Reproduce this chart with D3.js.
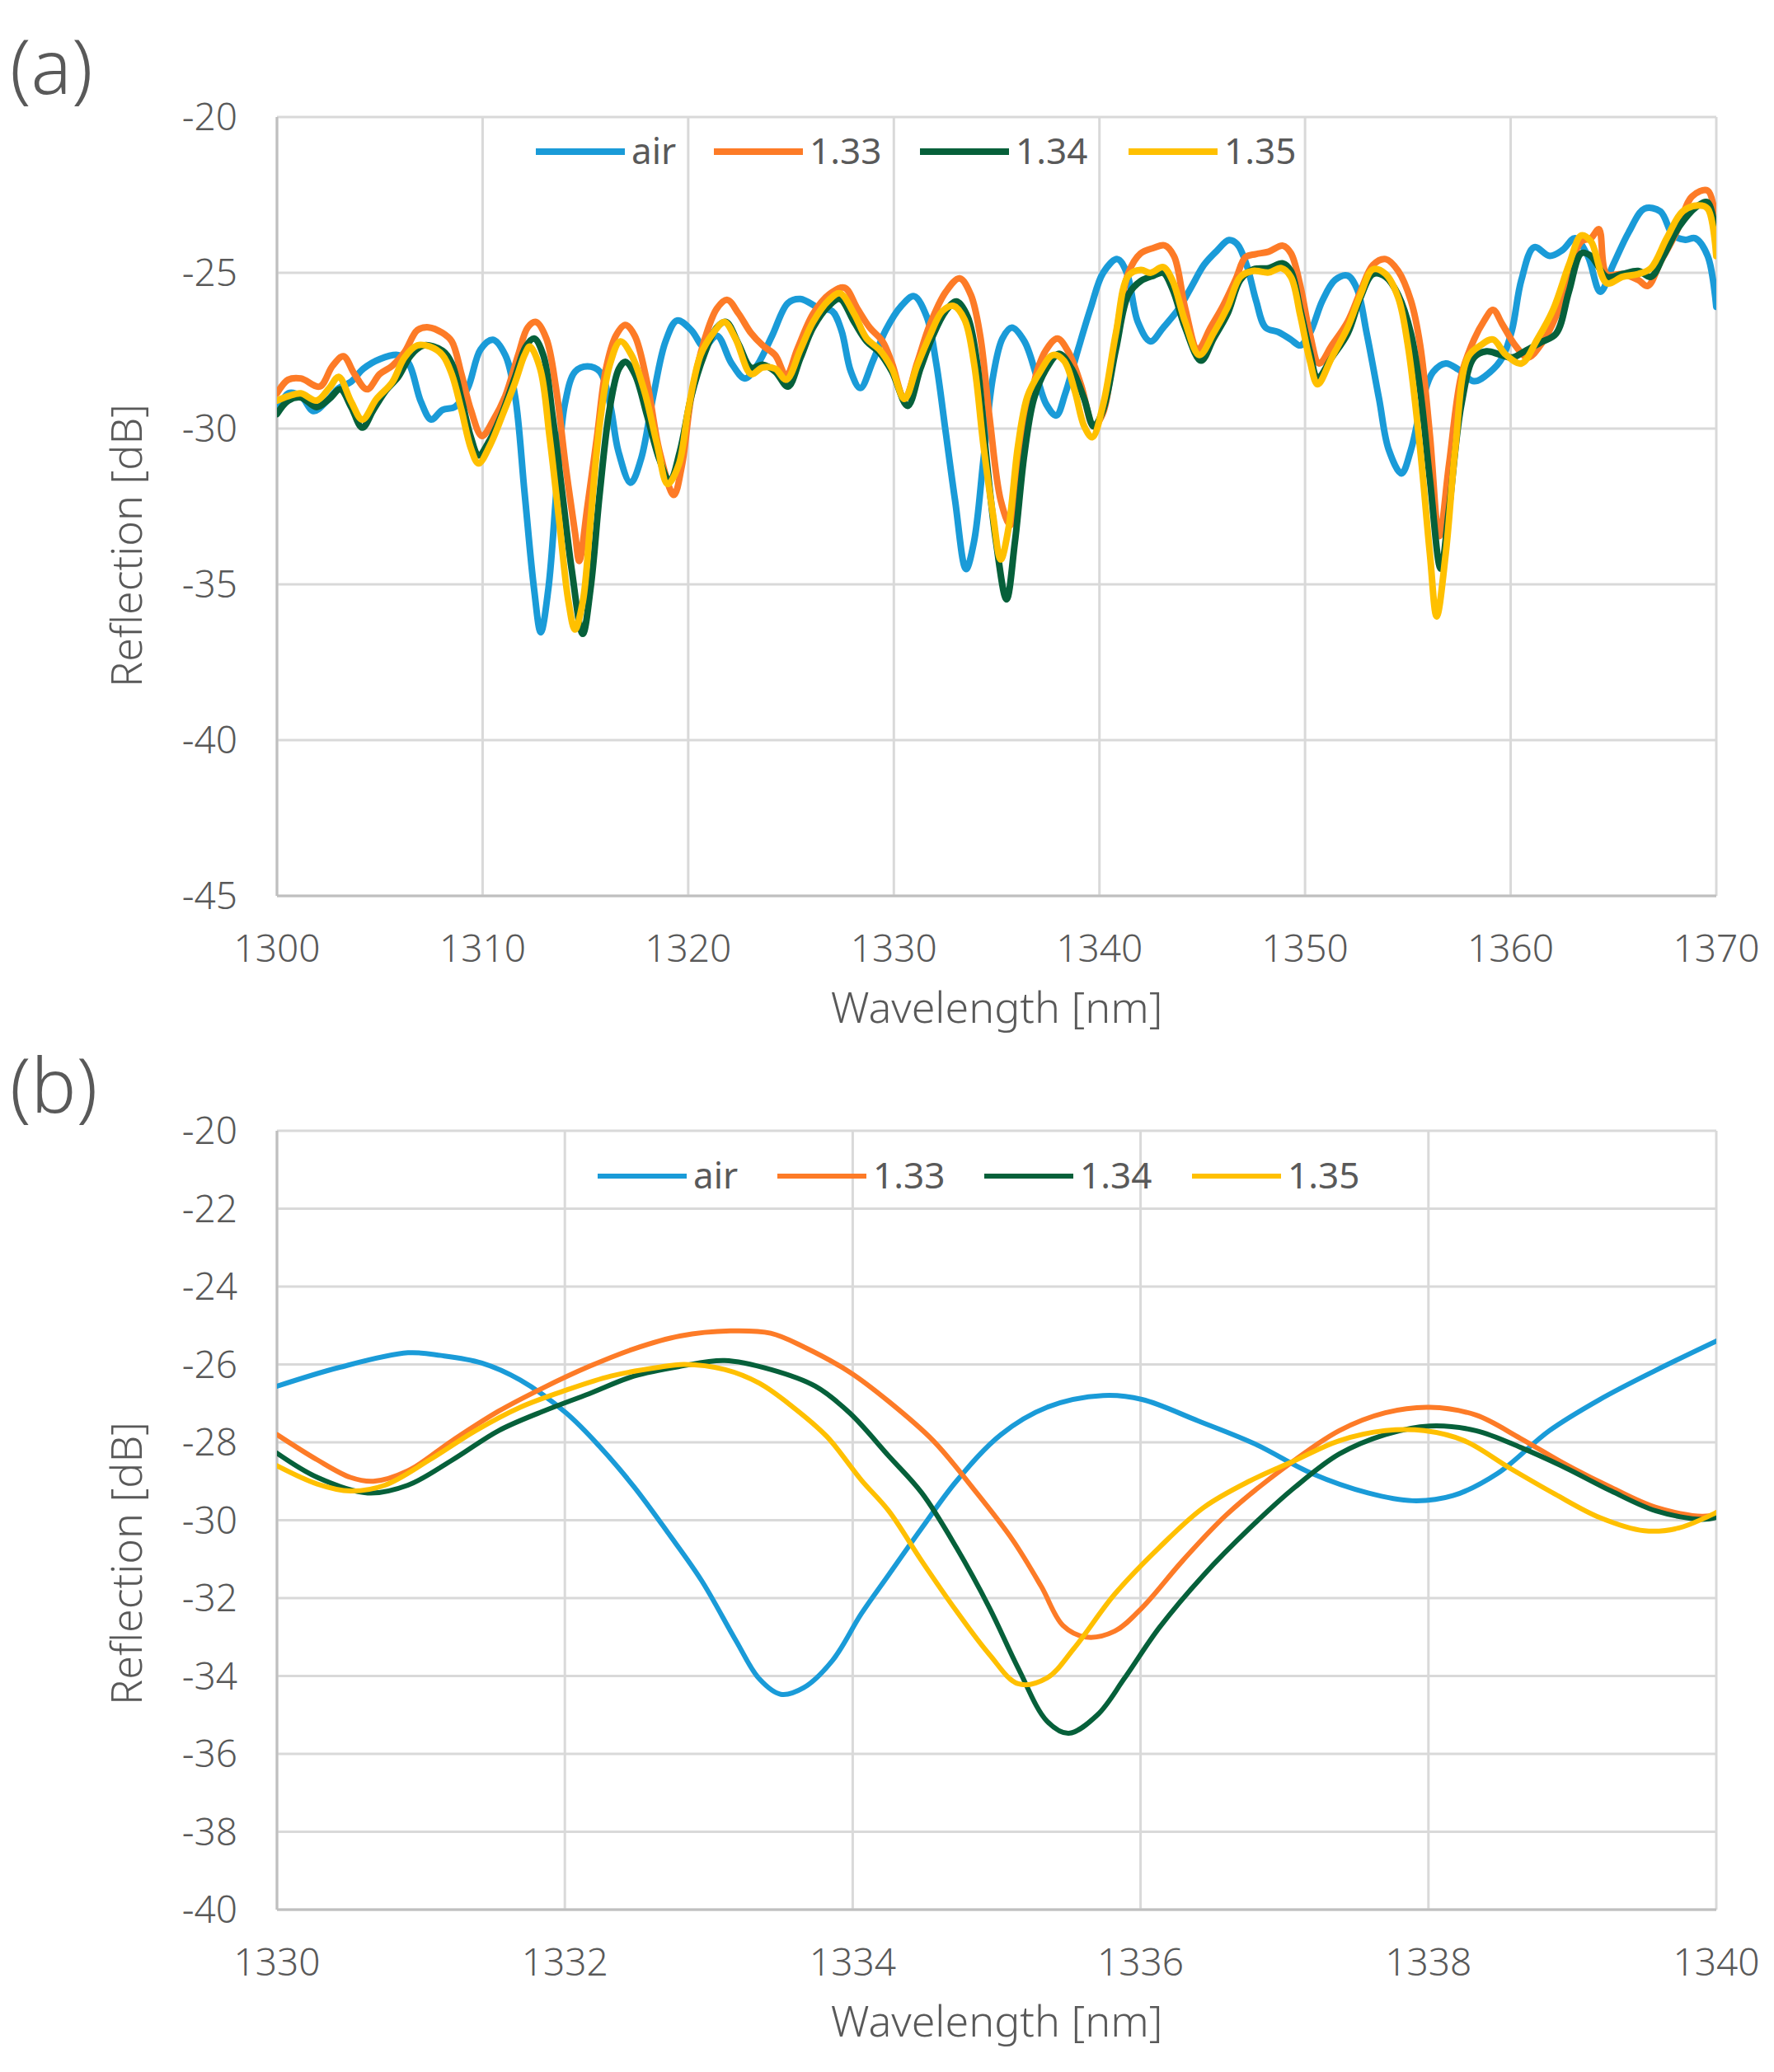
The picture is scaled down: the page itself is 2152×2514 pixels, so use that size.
<!DOCTYPE html>
<html><head><meta charset="utf-8">
<script src="https://cdn.jsdelivr.net/npm/d3@7"></script>
<style>body{margin:0;background:#fff}svg{display:block}</style>
</head><body>
<script>
// ---------- DATA ----------
const seriesNames = ["air", "1.33", "1.34", "1.35"];
const seriesColors = ["#1a9bd8", "#fd7b27", "#06603a", "#ffc000"];

// Panel (a): wavelength [nm], reflection [dB]
const a_air = [[1300,-29.5],[1300.55,-28.87],[1301.16,-28.96],[1301.78,-29.44],[1302.39,-29.14],[1303,-28.7],[1303.6,-28.5],[1304.2,-28.08],[1305,-27.77],[1305.9,-27.64],[1306.4,-27.9],[1307,-29.14],[1307.5,-29.71],[1308.05,-29.4],[1308.67,-29.3],[1309.28,-28.7],[1309.9,-27.46],[1310.5,-27.15],[1311.1,-27.64],[1311.58,-28.96],[1312.04,-32.05],[1312.5,-35.13],[1312.83,-36.54],[1313.2,-35.13],[1313.64,-31.6],[1314,-29.22],[1314.5,-28.17],[1315.1,-28.0],[1315.7,-28.17],[1316.2,-29.22],[1316.6,-30.72],[1317.2,-31.74],[1317.7,-30.99],[1318.3,-28.96],[1318.9,-27.2],[1319.46,-26.53],[1320.15,-26.84],[1320.77,-27.37],[1321.4,-27.02],[1322.1,-27.9],[1322.76,-28.39],[1323.37,-27.95],[1324.08,-27.02],[1324.85,-25.97],[1325.46,-25.84],[1326.38,-26.14],[1327,-26.23],[1327.45,-26.85],[1327.91,-28.17],[1328.37,-28.7],[1328.99,-27.82],[1329.6,-26.85],[1330.37,-26.06],[1330.98,-25.75],[1331.6,-26.41],[1332.06,-27.9],[1332.52,-30.1],[1332.98,-32.31],[1333.51,-34.51],[1333.9,-33.63],[1334.36,-30.99],[1334.82,-28.35],[1335.28,-27.11],[1335.74,-26.76],[1336.35,-27.2],[1336.96,-28.35],[1337.42,-29.23],[1337.9,-29.58],[1338.34,-28.87],[1338.96,-27.46],[1339.57,-26.14],[1340.18,-25.0],[1340.87,-24.56],[1341.33,-25.0],[1341.87,-26.58],[1342.48,-27.2],[1343.1,-26.76],[1343.87,-26.14],[1344.48,-25.44],[1345.09,-24.74],[1345.7,-24.3],[1346.3,-23.95],[1346.7,-24.08],[1347.16,-24.75],[1347.62,-25.9],[1348.08,-26.76],[1348.7,-26.9],[1349.3,-27.14],[1349.77,-27.33],[1350.23,-26.95],[1350.84,-25.9],[1351.46,-25.23],[1352.07,-25.09],[1352.53,-25.52],[1353,-26.95],[1353.6,-29.05],[1354.07,-30.68],[1354.69,-31.44],[1355.15,-30.68],[1355.76,-28.96],[1356.22,-28.19],[1356.84,-27.91],[1357.45,-28.1],[1358.22,-28.48],[1358.99,-28.19],[1359.6,-27.72],[1360.06,-26.85],[1360.52,-25.23],[1361.14,-24.18],[1361.9,-24.46],[1362.52,-24.27],[1363.13,-23.89],[1363.75,-24.46],[1364.36,-25.61],[1364.98,-24.75],[1365.74,-23.7],[1366.51,-22.94],[1367.28,-23.03],[1367.9,-23.8],[1368.5,-23.94],[1368.97,-23.89],[1369.58,-24.46],[1370,-26.09]];
const a_133 = [[1300,-28.87],[1300.55,-28.43],[1301.16,-28.39],[1302.08,-28.65],[1302.7,-27.99],[1303.23,-27.68],[1303.77,-28.25],[1304.38,-28.74],[1305,-28.25],[1305.6,-27.99],[1306.2,-27.55],[1306.83,-26.84],[1307.37,-26.75],[1308.05,-26.93],[1308.5,-27.2],[1308.97,-28.25],[1309.43,-29.4],[1309.97,-30.24],[1310.5,-29.75],[1311.1,-28.96],[1311.73,-27.64],[1312.2,-26.75],[1312.6,-26.58],[1313.1,-27.11],[1313.57,-28.7],[1314.03,-31.16],[1314.5,-33.37],[1314.7,-34.25],[1315.1,-32.49],[1315.56,-30.28],[1316,-28.08],[1316.48,-27.02],[1316.94,-26.67],[1317.4,-27.02],[1318,-28.52],[1318.6,-30.72],[1319.3,-32.13],[1319.7,-31.16],[1320.15,-28.96],[1320.77,-27.2],[1321.4,-26.14],[1321.9,-25.87],[1322.45,-26.31],[1323.06,-26.94],[1323.62,-27.33],[1324.23,-27.64],[1324.77,-28.3],[1325.3,-27.46],[1326.07,-26.32],[1326.84,-25.7],[1327.6,-25.48],[1328.22,-26.14],[1328.83,-26.76],[1329.45,-27.2],[1329.91,-27.9],[1330.52,-29.05],[1331.13,-27.9],[1331.75,-26.67],[1332.52,-25.62],[1333.2,-25.18],[1333.74,-25.7],[1334.2,-27.02],[1334.66,-29.67],[1335.2,-32.31],[1335.66,-33.1],[1336.04,-31.43],[1336.5,-29.67],[1336.96,-28.17],[1337.42,-27.46],[1337.96,-27.11],[1338.5,-27.55],[1339.11,-28.61],[1339.72,-29.93],[1340.18,-29.49],[1340.8,-27.02],[1341.41,-25.0],[1342,-24.38],[1342.64,-24.2],[1343.17,-24.12],[1343.63,-24.47],[1344.17,-26.14],[1344.79,-27.46],[1345.4,-26.76],[1346.01,-26.06],[1346.63,-25.2],[1347.1,-24.5],[1347.6,-24.4],[1348.23,-24.32],[1348.92,-24.13],[1349.31,-24.37],[1349.77,-25.42],[1350.23,-26.95],[1350.69,-27.91],[1351.3,-27.33],[1352.07,-26.57],[1352.69,-25.61],[1353.3,-24.75],[1353.92,-24.56],[1354.53,-24.94],[1355.15,-25.9],[1355.6,-27.33],[1356.07,-30.2],[1356.53,-33.45],[1357,-31.16],[1357.6,-28.29],[1358.22,-27.14],[1358.68,-26.57],[1359.14,-26.19],[1359.6,-26.66],[1360.22,-27.33],[1360.83,-27.72],[1361.44,-27.33],[1362.21,-26.38],[1362.83,-24.94],[1363.44,-23.99],[1363.9,-23.89],[1364.29,-23.6],[1364.67,-25.04],[1365.44,-25.04],[1366.2,-25.23],[1366.67,-25.42],[1367.28,-24.66],[1368.06,-23.7],[1368.82,-22.55],[1369.58,-22.36],[1370,-23.51]];
const a_134 = [[1300,-29.53],[1300.55,-29.1],[1301.16,-29.0],[1301.93,-29.31],[1302.54,-29.05],[1303.08,-28.74],[1303.61,-29.31],[1304.15,-29.97],[1304.69,-29.4],[1305.3,-28.78],[1305.9,-28.34],[1306.52,-27.64],[1307.13,-27.33],[1308.05,-27.5],[1308.5,-27.9],[1308.97,-29.05],[1309.43,-30.28],[1309.8,-30.86],[1310.35,-30.37],[1310.96,-29.49],[1311.58,-28.34],[1312.1,-27.37],[1312.5,-27.11],[1312.95,-27.64],[1313.4,-29.58],[1313.87,-32.05],[1314.33,-34.51],[1314.87,-36.59],[1315.25,-35.13],[1315.7,-32.05],[1316.17,-29.4],[1316.63,-28.08],[1316.94,-27.86],[1317.4,-28.25],[1318,-29.58],[1318.6,-30.99],[1319.1,-31.69],[1319.6,-30.72],[1320.15,-28.96],[1320.77,-27.64],[1321.4,-26.75],[1321.84,-26.58],[1322.45,-27.29],[1323.06,-28.05],[1323.62,-27.95],[1324.23,-28.17],[1324.85,-28.65],[1325.46,-27.73],[1326.07,-26.76],[1326.84,-26.06],[1327.38,-25.84],[1328.07,-26.58],[1328.68,-27.2],[1329.29,-27.55],[1329.91,-28.17],[1330.67,-29.27],[1331.29,-28.08],[1331.9,-27.02],[1332.52,-26.23],[1333.05,-25.92],[1333.59,-26.41],[1334.05,-27.9],[1334.51,-30.99],[1334.97,-33.63],[1335.48,-35.48],[1335.89,-33.63],[1336.35,-30.81],[1336.81,-29.05],[1337.42,-28.08],[1338.04,-27.6],[1338.65,-28.08],[1339.26,-29.05],[1339.72,-29.93],[1340.18,-29.4],[1340.8,-27.46],[1341.41,-25.7],[1342.02,-25.26],[1342.64,-25.09],[1343.1,-25.0],[1343.56,-25.53],[1344.17,-26.76],[1344.94,-27.82],[1345.55,-27.11],[1346.24,-26.3],[1346.85,-25.23],[1347.47,-24.89],[1348.23,-24.85],[1348.92,-24.7],[1349.31,-24.94],[1349.77,-26.19],[1350.23,-27.52],[1350.61,-28.38],[1351.3,-27.72],[1352.07,-26.95],[1352.69,-25.8],[1353.3,-25.04],[1353.92,-25.13],[1354.53,-25.71],[1355.15,-26.95],[1355.6,-28.77],[1356.07,-31.63],[1356.6,-34.5],[1357,-32.59],[1357.6,-29.24],[1358.22,-27.72],[1358.83,-27.52],[1359.45,-27.62],[1360.06,-27.72],[1360.68,-27.52],[1361.44,-27.24],[1362.21,-26.95],[1362.83,-25.61],[1363.44,-24.37],[1363.9,-24.46],[1364.67,-25.13],[1365.44,-25.04],[1366.2,-24.94],[1366.82,-25.13],[1367.43,-24.46],[1368.2,-23.51],[1369.12,-22.84],[1369.58,-22.74],[1370,-23.99]];
const a_135 = [[1300,-29.1],[1300.55,-28.96],[1301.16,-28.87],[1301.93,-29.1],[1302.54,-28.7],[1303,-28.34],[1303.61,-29.14],[1304.15,-29.71],[1304.84,-29.05],[1305.6,-28.52],[1306.2,-27.72],[1306.83,-27.33],[1307.44,-27.37],[1308.05,-27.64],[1308.5,-28.25],[1308.97,-29.4],[1309.43,-30.63],[1309.8,-31.12],[1310.35,-30.55],[1310.96,-29.58],[1311.58,-28.52],[1312.04,-27.64],[1312.3,-27.37],[1312.8,-28.08],[1313.26,-30.28],[1313.72,-32.93],[1314.18,-35.57],[1314.49,-36.45],[1314.87,-35.57],[1315.25,-32.93],[1315.7,-29.84],[1316.17,-27.99],[1316.7,-27.2],[1317.24,-27.64],[1317.86,-28.78],[1318.47,-30.46],[1319,-31.78],[1319.54,-31.16],[1320,-29.4],[1320.6,-27.64],[1321.22,-26.93],[1321.76,-26.58],[1322.3,-27.11],[1323.06,-28.25],[1323.62,-28.04],[1324.23,-28.08],[1324.77,-28.43],[1325.46,-27.46],[1326.07,-26.58],[1326.84,-25.88],[1327.38,-25.66],[1328.07,-26.32],[1328.68,-27.11],[1329.29,-27.46],[1329.91,-28.08],[1330.52,-29.05],[1331.13,-27.99],[1331.75,-27.02],[1332.36,-26.23],[1332.9,-26.06],[1333.44,-26.5],[1333.9,-27.9],[1334.36,-30.55],[1334.82,-32.75],[1335.2,-34.2],[1335.58,-33.19],[1336.04,-30.55],[1336.5,-28.96],[1337.12,-28.17],[1337.73,-27.64],[1338.27,-27.82],[1338.8,-28.79],[1339.26,-29.93],[1339.65,-30.28],[1340.18,-29.23],[1340.8,-26.94],[1341.41,-25.09],[1342.02,-24.91],[1342.48,-25.0],[1343.1,-24.82],[1343.56,-25.26],[1344.17,-26.58],[1344.86,-27.64],[1345.55,-26.94],[1346.24,-26.09],[1346.85,-25.13],[1347.47,-24.94],[1348.23,-24.99],[1348.85,-24.85],[1349.31,-25.13],[1349.77,-26.38],[1350.23,-27.81],[1350.61,-28.58],[1351.3,-27.72],[1352.07,-26.76],[1352.69,-25.71],[1353.3,-24.89],[1353.92,-25.04],[1354.53,-25.8],[1355,-27.33],[1355.6,-30.68],[1356.07,-34.02],[1356.4,-36.03],[1356.84,-34.02],[1357.3,-30.68],[1357.91,-27.72],[1358.53,-27.33],[1359.14,-27.14],[1359.75,-27.62],[1360.52,-27.91],[1361.29,-27.14],[1362.06,-26.19],[1362.83,-24.75],[1363.44,-23.8],[1363.9,-23.99],[1364.67,-25.33],[1365.44,-25.13],[1366.2,-25.04],[1366.82,-24.85],[1367.59,-23.89],[1368.36,-23.03],[1369.12,-22.84],[1369.58,-22.94],[1370,-24.46]];

// Panel (b): zoom 1330–1340 nm
const b_air = [[1330,-26.56],[1330.43,-26.08],[1330.91,-25.7],[1331.14,-25.77],[1331.42,-25.96],[1331.69,-26.4],[1332.01,-27.25],[1332.24,-28.1],[1332.48,-29.14],[1332.72,-30.34],[1332.95,-31.55],[1333.19,-33.1],[1333.35,-34.07],[1333.5,-34.47],[1333.66,-34.3],[1333.86,-33.6],[1334.06,-32.4],[1334.25,-31.4],[1334.48,-30.2],[1334.72,-29.0],[1335.03,-27.8],[1335.35,-27.1],[1335.74,-26.8],[1336.01,-26.9],[1336.4,-27.45],[1336.8,-28.05],[1337.19,-28.8],[1337.58,-29.3],[1337.89,-29.5],[1338.17,-29.37],[1338.48,-28.8],[1338.84,-27.7],[1339.19,-26.9],[1339.58,-26.15],[1340,-25.4]];
const b_133 = [[1330,-27.8],[1330.28,-28.45],[1330.51,-28.9],[1330.67,-29.0],[1330.91,-28.73],[1331.22,-27.95],[1331.54,-27.2],[1331.85,-26.6],[1332.17,-26.05],[1332.48,-25.6],[1332.8,-25.27],[1333.15,-25.14],[1333.43,-25.2],[1333.66,-25.55],[1333.98,-26.2],[1334.25,-26.95],[1334.56,-27.96],[1334.84,-29.2],[1335.11,-30.5],[1335.31,-31.7],[1335.46,-32.7],[1335.62,-33.0],[1335.82,-32.85],[1336.01,-32.25],[1336.29,-31.05],[1336.6,-29.85],[1337,-28.65],[1337.38,-27.7],[1337.7,-27.24],[1338.01,-27.1],[1338.33,-27.3],[1338.64,-27.9],[1338.95,-28.56],[1339.27,-29.16],[1339.58,-29.67],[1339.9,-29.9],[1340,-29.85]];
const b_134 = [[1330,-28.28],[1330.28,-28.9],[1330.63,-29.3],[1330.91,-29.1],[1331.22,-28.45],[1331.54,-27.7],[1331.85,-27.2],[1332.17,-26.75],[1332.48,-26.3],[1332.8,-26.05],[1333.11,-25.9],[1333.43,-26.13],[1333.74,-26.56],[1333.98,-27.25],[1334.25,-28.35],[1334.48,-29.3],[1334.72,-30.7],[1334.95,-32.25],[1335.15,-33.8],[1335.35,-35.16],[1335.5,-35.47],[1335.7,-35.0],[1335.89,-34.05],[1336.13,-32.76],[1336.44,-31.4],[1336.76,-30.2],[1337.07,-29.16],[1337.38,-28.3],[1337.7,-27.8],[1338.01,-27.58],[1338.33,-27.7],[1338.64,-28.13],[1338.95,-28.65],[1339.27,-29.25],[1339.58,-29.76],[1339.9,-29.98],[1340,-29.93]];
const b_135 = [[1330,-28.6],[1330.28,-29.07],[1330.51,-29.25],[1330.75,-29.1],[1331.06,-28.45],[1331.38,-27.7],[1331.69,-27.1],[1332.01,-26.66],[1332.32,-26.3],[1332.64,-26.08],[1332.83,-26.0],[1333.11,-26.13],[1333.35,-26.48],[1333.58,-27.08],[1333.82,-27.85],[1334.06,-28.97],[1334.25,-29.76],[1334.48,-31.05],[1334.72,-32.33],[1334.95,-33.45],[1335.15,-34.2],[1335.35,-34.05],[1335.54,-33.28],[1335.82,-31.9],[1336.13,-30.7],[1336.44,-29.67],[1336.76,-28.99],[1337.07,-28.47],[1337.38,-27.96],[1337.7,-27.7],[1337.97,-27.7],[1338.25,-27.96],[1338.56,-28.65],[1338.88,-29.33],[1339.19,-29.93],[1339.5,-30.27],[1339.74,-30.2],[1340,-29.8]];

const aTicksX = [1300,1310,1320,1330,1340,1350,1360,1370];
const aTicksY = [-20,-25,-30,-35,-40,-45];
const bTicksX = [1330,1332,1334,1336,1338,1340];
const bTicksY = [-20,-22,-24,-26,-28,-30,-32,-34,-36,-38,-40];

// ---------- DRAW ----------
const W = 2152, H = 2514;
const svg = d3.select("body").append("svg").attr("width", W).attr("height", H)
  .style("font-family", "'Noto Sans', 'Open Sans', sans-serif");
const textColor = "#595959";
const gridColor = "#d9d9d9";

function panel(cfg) {
  const x = d3.scaleLinear().domain(cfg.xDomain).range([cfg.left, cfg.right]);
  const y = d3.scaleLinear().domain(cfg.yDomain).range([cfg.bottom, cfg.top]);
  const g = svg.append("g");

  // grid
  g.append("g").selectAll("line.v").data(cfg.ticksX).join("line")
    .attr("x1", d => x(d)).attr("x2", d => x(d)).attr("y1", cfg.top).attr("y2", cfg.bottom)
    .attr("stroke", gridColor).attr("stroke-width", 3);
  g.append("g").selectAll("line.h").data(cfg.ticksY).join("line")
    .attr("x1", cfg.left).attr("x2", cfg.right).attr("y1", d => y(d)).attr("y2", d => y(d))
    .attr("stroke", gridColor).attr("stroke-width", 3);
  // axis lines
  g.append("line").attr("x1", cfg.left).attr("x2", cfg.left).attr("y1", cfg.top).attr("y2", cfg.bottom)
    .attr("stroke", "#bfbfbf").attr("stroke-width", 3);
  g.append("line").attr("x1", cfg.left).attr("x2", cfg.right).attr("y1", cfg.bottom).attr("y2", cfg.bottom)
    .attr("stroke", "#bfbfbf").attr("stroke-width", 3);

  // tick labels
  g.append("g").selectAll("text").data(cfg.ticksY).join("text")
    .attr("x", cfg.left - 48).attr("y", d => y(d)).attr("dy", "0.35em")
    .attr("text-anchor", "end").attr("font-size", 46).attr("font-weight", 300).attr("fill", textColor)
    .text(d => d);
  g.append("g").selectAll("text").data(cfg.ticksX).join("text")
    .attr("x", d => x(d)).attr("y", cfg.bottom + 64).attr("dy", "0.35em")
    .attr("text-anchor", "middle").attr("font-size", 46).attr("font-weight", 300).attr("fill", textColor)
    .text(d => d);

  // axis titles
  g.append("text").attr("x", (cfg.left + cfg.right) / 2).attr("y", cfg.bottom + 136).attr("dy", "0.35em")
    .attr("text-anchor", "middle").attr("font-size", 52).attr("font-weight", 300).attr("fill", textColor).text("Wavelength [nm]");
  g.append("text").attr("transform", `translate(154,${cfg.yTitle}) rotate(-90)`).attr("dy", "0.35em")
    .attr("text-anchor", "middle").attr("font-size", 52).attr("font-weight", 300).attr("fill", textColor).text("Reflection [dB]");

  // panel label
  g.append("text").attr("x", 12).attr("y", cfg.labelY).attr("dy", "0.35em")
    .attr("font-size", 92).attr("font-weight", 300).attr("fill", textColor).text(cfg.label);

  // lines
  const line = d3.line().x(d => x(d[0])).y(d => y(d[1])).curve(d3.curveCatmullRom.alpha(0.5));
  const clipId = "clip" + cfg.label.replace(/\W/g, "");
  svg.append("clipPath").attr("id", clipId).append("rect")
    .attr("x", cfg.left).attr("y", cfg.top - 20).attr("width", cfg.right - cfg.left).attr("height", cfg.bottom - cfg.top + 20);
  g.append("g").attr("clip-path", `url(#${clipId})`).selectAll("path").data(cfg.series).join("path")
    .attr("d", d => line(d)).attr("fill", "none")
    .attr("stroke", (d, i) => seriesColors[i]).attr("stroke-width", cfg.lw)
    .attr("stroke-linejoin", "round").attr("stroke-linecap", "round");

  // legend
  const lg = g.append("g");
  seriesNames.forEach((n, i) => {
    const lx = cfg.legendX[i];
    lg.append("line").attr("x1", lx).attr("x2", lx + 108).attr("y1", cfg.legendY).attr("y2", cfg.legendY)
      .attr("stroke", seriesColors[i]).attr("stroke-width", cfg.lw);
    lg.append("text").attr("x", lx + 116).attr("y", cfg.legendY).attr("dy", "0.35em")
      .attr("font-size", 44).attr("fill", textColor).text(n);
  });
}

panel({
  label: "(a)", labelY: 82,
  xDomain: [1300, 1370], yDomain: [-45, -20],
  left: 336, right: 2082, top: 142, bottom: 1087,
  ticksX: aTicksX, ticksY: aTicksY, yTitle: 662,
  series: [a_air, a_133, a_134, a_135], lw: 8,
  legendX: [650, 866, 1116, 1369], legendY: 184
});
panel({
  label: "(b)", labelY: 1318,
  xDomain: [1330, 1340], yDomain: [-40, -20],
  left: 336, right: 2082, top: 1372, bottom: 2317,
  ticksX: bTicksX, ticksY: bTicksY, yTitle: 1897,
  series: [b_air, b_133, b_134, b_135], lw: 6,
  legendX: [725, 943, 1194, 1446], legendY: 1427
});
</script>
</body></html>
